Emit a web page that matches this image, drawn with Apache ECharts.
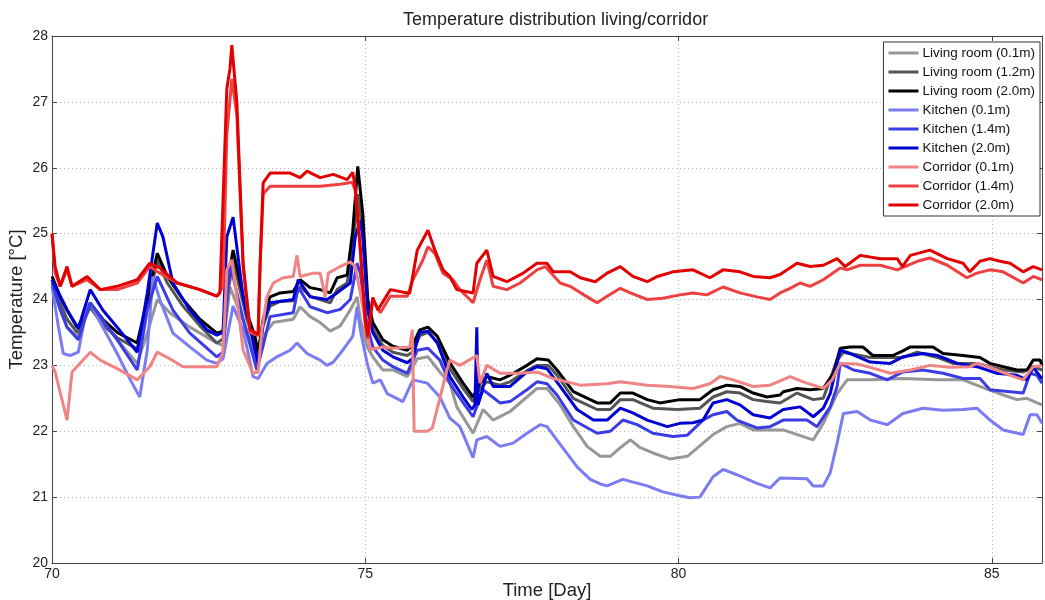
<!DOCTYPE html>
<html>
<head>
<meta charset="utf-8">
<script src="https://cdn.jsdelivr.net/npm/echarts@6/dist/echarts.min.js"></script>
<style>
html,body{margin:0;padding:0;background:#fff;}
#chart{width:1045px;height:600px;}
</style>
</head>
<body>
<div id="chart"></div>
<script>
// ---- data: [day, temperature °C] ----
const seriesNames = ['Living room (0.1m)','Living room (1.2m)','Living room (2.0m)','Kitchen (0.1m)','Kitchen (1.4m)','Kitchen (2.0m)','Corridor (0.1m)','Corridor (1.4m)','Corridor (2.0m)'];
const xTicks = [70, 75, 80, 85];
const yTicks = [20, 21, 22, 23, 24, 25, 26, 27, 28];

const livingRoom01 = [[70.00,24.2],[70.13,23.85],[70.24,23.58],[70.40,23.44],[70.61,23.89],[71.04,23.39],[71.36,23.03],[71.52,23.49],[71.68,24.0],[71.88,23.8],[72.20,23.58],[72.63,23.34],[72.73,23.3],[72.84,24.19],[73.11,23.54],[73.27,23.03],[73.37,23.44],[73.53,23.65],[73.85,23.7],[73.96,23.89],[74.12,23.74],[74.28,23.65],[74.44,23.52],[74.60,23.6],[74.76,23.84],[74.87,24.04],[74.92,23.7],[75.03,23.28],[75.12,23.13],[75.28,22.93],[75.44,22.93],[75.67,22.83],[75.83,23.1],[76.00,23.13],[76.19,22.9],[76.35,22.73],[76.46,22.37],[76.72,21.97],[76.88,22.33],[77.04,22.17],[77.31,22.3],[77.58,22.52],[77.74,22.65],[77.90,22.65],[78.11,22.4],[78.32,22.07],[78.54,21.77],[78.75,21.62],[78.91,21.62],[79.07,21.75],[79.23,21.87],[79.39,21.75],[79.59,21.67],[79.86,21.58],[80.14,21.62],[80.39,21.82],[80.55,21.95],[80.77,22.07],[80.98,22.12],[81.19,22.02],[81.46,22.02],[81.67,22.02],[82.05,21.9],[82.15,21.87],[82.31,22.12],[82.53,22.57],[82.69,22.78],[83.06,22.78],[83.58,22.8],[84.13,22.78],[84.54,22.78],[84.81,22.68],[85.18,22.55],[85.40,22.48],[85.56,22.5],[85.72,22.43],[85.80,22.4]];

const livingRoom12 = [[70.00,24.3],[70.13,23.95],[70.24,23.7],[70.40,23.5],[70.61,23.88],[70.81,23.62],[71.04,23.42],[71.36,23.25],[71.52,23.9],[71.68,24.6],[71.84,24.25],[72.09,23.9],[72.36,23.6],[72.63,23.34],[72.73,23.4],[72.79,24.0],[72.89,24.6],[73.11,23.7],[73.24,23.35],[73.29,23.15],[73.37,23.6],[73.48,23.9],[73.64,23.97],[73.85,23.98],[73.96,24.2],[74.12,24.05],[74.28,24.0],[74.44,23.95],[74.55,24.15],[74.71,24.25],[74.80,24.8],[74.88,25.6],[74.96,25.0],[75.04,23.85],[75.12,23.55],[75.28,23.3],[75.44,23.2],[75.67,23.15],[75.75,23.2],[75.87,23.45],[76.00,23.5],[76.15,23.35],[76.35,22.95],[76.56,22.65],[76.72,22.45],[76.83,22.65],[76.94,22.75],[77.15,22.7],[77.31,22.75],[77.58,22.92],[77.74,23.0],[77.92,23.0],[78.06,22.85],[78.32,22.5],[78.70,22.33],[78.91,22.33],[79.07,22.48],[79.27,22.48],[79.59,22.35],[79.98,22.33],[80.34,22.35],[80.55,22.52],[80.77,22.6],[80.98,22.58],[81.19,22.48],[81.41,22.45],[81.62,22.43],[81.89,22.58],[82.15,22.48],[82.31,22.5],[82.53,23.08],[82.63,23.2],[83.06,23.12],[83.58,23.12],[83.81,23.2],[84.13,23.12],[84.38,23.03],[84.76,23.03],[85.18,22.93],[85.50,22.9],[85.66,22.98],[85.80,22.93]];

const livingRoom20 = [[70.00,24.35],[70.13,24.05],[70.24,23.84],[70.40,23.58],[70.49,23.7],[70.61,23.95],[70.81,23.7],[71.04,23.5],[71.36,23.34],[71.52,24.0],[71.68,24.7],[71.84,24.35],[72.09,24.0],[72.36,23.7],[72.63,23.49],[72.73,23.52],[72.79,24.2],[72.89,24.75],[73.11,23.8],[73.24,23.44],[73.29,23.2],[73.37,23.7],[73.48,24.04],[73.64,24.1],[73.85,24.12],[73.96,24.3],[74.12,24.18],[74.28,24.15],[74.44,24.1],[74.55,24.33],[74.71,24.37],[74.80,25.05],[74.88,26.02],[74.96,25.3],[75.04,24.0],[75.12,23.65],[75.28,23.39],[75.44,23.29],[75.67,23.23],[75.75,23.3],[75.87,23.54],[76.00,23.58],[76.15,23.44],[76.35,23.04],[76.56,22.73],[76.72,22.52],[76.83,22.73],[76.94,22.83],[77.15,22.78],[77.31,22.85],[77.58,23.0],[77.74,23.1],[77.92,23.08],[78.06,22.93],[78.32,22.6],[78.70,22.43],[78.91,22.43],[79.07,22.58],[79.27,22.58],[79.50,22.48],[79.70,22.43],[80.02,22.48],[80.34,22.48],[80.55,22.63],[80.77,22.7],[80.98,22.68],[81.19,22.58],[81.41,22.52],[81.62,22.55],[81.67,22.6],[81.89,22.65],[82.10,22.63],[82.31,22.65],[82.47,22.88],[82.58,23.26],[82.74,23.28],[82.94,23.28],[83.10,23.15],[83.42,23.15],[83.58,23.22],[83.70,23.28],[84.06,23.28],[84.22,23.18],[84.54,23.15],[84.81,23.12],[84.97,23.03],[85.18,22.98],[85.40,22.93],[85.56,22.93],[85.66,23.08],[85.77,23.08],[85.80,23.0]];

const kitchen01 = [[70.00,24.2],[70.10,23.6],[70.18,23.18],[70.29,23.15],[70.42,23.2],[70.56,23.9],[70.61,23.95],[70.77,23.65],[71.04,23.18],[71.25,22.78],[71.40,22.52],[71.52,23.23],[71.61,24.35],[71.72,24.0],[71.93,23.49],[72.20,23.28],[72.47,23.08],[72.63,23.03],[72.73,23.1],[72.89,23.9],[73.05,23.54],[73.21,22.83],[73.29,22.8],[73.43,23.03],[73.59,23.13],[73.80,23.23],[73.91,23.34],[74.07,23.18],[74.28,23.08],[74.39,23.0],[74.49,23.05],[74.64,23.23],[74.80,23.44],[74.87,23.89],[74.92,23.54],[75.03,23.03],[75.12,22.73],[75.24,22.78],[75.35,22.57],[75.60,22.45],[75.76,22.78],[75.99,22.73],[76.19,22.52],[76.35,22.2],[76.51,22.07],[76.72,21.6],[76.78,21.87],[76.94,21.92],[77.15,21.77],[77.36,21.82],[77.58,21.97],[77.79,22.1],[77.90,22.07],[78.11,21.8],[78.38,21.46],[78.59,21.27],[78.75,21.2],[78.86,21.17],[79.11,21.27],[79.50,21.17],[79.75,21.08],[80.02,21.02],[80.18,20.99],[80.34,21.0],[80.55,21.31],[80.71,21.42],[80.93,21.34],[81.25,21.21],[81.46,21.14],[81.62,21.29],[82.05,21.28],[82.15,21.17],[82.31,21.17],[82.42,21.37],[82.53,21.82],[82.63,22.27],[82.85,22.3],[83.06,22.17],[83.33,22.1],[83.58,22.27],[83.90,22.35],[84.22,22.32],[84.54,22.33],[84.76,22.35],[84.97,22.17],[85.18,22.02],[85.50,21.95],[85.61,22.25],[85.72,22.25],[85.80,22.12]];

const kitchen14 = [[70.00,24.25],[70.13,23.85],[70.24,23.58],[70.42,23.39],[70.61,23.95],[71.04,23.39],[71.36,22.93],[71.52,23.84],[71.68,24.35],[71.93,23.84],[72.20,23.49],[72.63,23.13],[72.73,23.2],[72.84,24.55],[73.05,23.7],[73.27,22.93],[73.37,23.3],[73.48,23.74],[73.85,23.8],[73.93,24.19],[74.12,23.89],[74.39,23.8],[74.60,23.85],[74.76,24.0],[74.87,24.55],[74.92,24.4],[75.03,23.6],[75.12,23.28],[75.28,23.08],[75.44,22.98],[75.67,22.88],[75.83,23.23],[76.00,23.26],[76.19,23.08],[76.35,22.73],[76.46,22.57],[76.72,22.22],[76.88,22.63],[77.15,22.43],[77.31,22.45],[77.58,22.63],[77.74,22.75],[77.90,22.72],[78.06,22.55],[78.32,22.17],[78.70,21.97],[78.91,22.0],[79.11,22.17],[79.34,22.1],[79.59,21.97],[79.91,21.92],[80.14,21.94],[80.39,22.17],[80.55,22.25],[80.77,22.3],[80.93,22.17],[81.25,22.05],[81.46,22.07],[81.67,22.17],[82.05,22.17],[82.21,22.07],[82.42,22.37],[82.53,22.68],[82.58,23.03],[82.79,22.93],[83.06,22.88],[83.33,22.78],[83.58,22.9],[83.90,22.93],[84.22,22.88],[84.54,22.8],[84.81,22.8],[84.97,22.63],[85.29,22.6],[85.50,22.58],[85.61,22.88],[85.72,22.85],[85.80,22.73]];

const kitchen20 = [[70.00,24.3],[70.13,24.05],[70.24,23.84],[70.42,23.56],[70.61,24.15],[70.81,23.84],[71.04,23.58],[71.36,23.2],[71.52,24.1],[71.68,25.16],[71.77,24.95],[71.93,24.25],[72.20,23.84],[72.47,23.54],[72.63,23.46],[72.73,23.5],[72.79,24.95],[72.89,25.25],[73.05,24.04],[73.24,23.23],[73.29,23.03],[73.37,23.65],[73.48,23.95],[73.85,24.0],[73.93,24.3],[74.12,24.04],[74.39,24.0],[74.55,24.1],[74.76,24.25],[74.84,24.95],[74.92,25.2],[74.96,24.95],[75.04,23.84],[75.12,23.5],[75.28,23.23],[75.44,23.13],[75.67,23.04],[75.75,23.1],[75.87,23.5],[76.00,23.52],[76.15,23.34],[76.35,22.83],[76.56,22.52],[76.70,22.33],[76.75,22.4],[76.78,23.58],[76.80,22.4],[76.94,22.88],[77.04,22.68],[77.31,22.68],[77.58,22.9],[77.74,22.98],[77.90,22.95],[78.11,22.68],[78.38,22.33],[78.64,22.17],[78.86,22.17],[79.07,22.35],[79.27,22.28],[79.50,22.17],[79.82,22.07],[80.02,22.12],[80.23,22.13],[80.39,22.17],[80.55,22.43],[80.77,22.48],[80.98,22.4],[81.19,22.25],[81.46,22.2],[81.67,22.33],[81.94,22.37],[82.15,22.22],[82.31,22.35],[82.42,22.57],[82.58,23.23],[82.74,23.18],[83.06,23.05],[83.38,23.03],[83.58,23.13],[83.90,23.18],[84.13,23.15],[84.45,23.03],[84.76,22.98],[85.08,22.88],[85.40,22.85],[85.56,22.78],[85.66,22.97],[85.80,22.8]];

const corridor01 = [[70.00,23.0],[70.05,22.9],[70.24,22.17],[70.32,22.9],[70.61,23.2],[70.77,23.08],[71.04,22.95],[71.36,22.78],[71.56,22.98],[71.68,23.2],[71.88,23.1],[72.09,22.98],[72.36,22.98],[72.63,22.98],[72.73,23.2],[72.79,24.45],[72.87,24.6],[72.95,24.04],[73.05,23.23],[73.21,22.88],[73.29,22.9],[73.35,23.54],[73.43,24.04],[73.53,24.25],[73.69,24.33],[73.85,24.35],[73.91,24.67],[73.96,24.35],[74.17,24.4],[74.28,24.4],[74.36,24.04],[74.41,24.4],[74.60,24.5],[74.76,24.57],[74.84,24.5],[74.92,24.1],[75.03,23.5],[75.08,23.24],[75.28,23.28],[75.44,23.26],[75.71,23.28],[75.75,23.54],[75.78,22.0],[75.99,22.0],[76.07,22.05],[76.19,22.5],[76.30,22.92],[76.35,23.08],[76.51,23.0],[76.78,23.15],[76.83,22.73],[76.94,23.0],[77.15,22.88],[77.47,22.88],[77.74,22.9],[78.00,22.8],[78.43,22.7],[78.86,22.72],[79.07,22.75],[79.50,22.7],[79.86,22.68],[80.23,22.65],[80.50,22.72],[80.66,22.83],[80.87,22.78],[81.19,22.68],[81.46,22.7],[81.78,22.83],[81.99,22.75],[82.31,22.65],[82.45,22.78],[82.58,23.03],[82.85,23.02],[83.06,22.97],[83.38,22.88],[83.70,22.93],[84.01,23.0],[84.33,22.97],[84.65,22.98],[84.76,23.03],[84.97,22.97],[85.29,22.85],[85.50,22.78],[85.66,22.98],[85.80,23.0]];

const corridor14 = [[70.00,25.0],[70.05,24.4],[70.13,24.2],[70.24,24.45],[70.32,24.2],[70.56,24.3],[70.77,24.15],[71.04,24.15],[71.36,24.25],[71.56,24.5],[71.72,24.4],[72.00,24.25],[72.36,24.15],[72.63,24.05],[72.73,24.2],[72.79,26.5],[72.87,27.35],[72.95,26.8],[73.05,24.5],[73.16,23.5],[73.29,23.45],[73.32,24.5],[73.37,25.6],[73.48,25.72],[73.85,25.72],[74.28,25.72],[74.60,25.75],[74.79,25.78],[74.84,25.65],[74.92,24.8],[75.00,23.6],[75.04,23.4],[75.12,24.0],[75.24,23.8],[75.40,24.05],[75.67,24.05],[75.76,24.3],[75.92,24.6],[76.00,24.8],[76.11,24.7],[76.24,24.4],[76.40,24.3],[76.51,24.15],[76.72,23.95],[76.83,24.3],[76.94,24.6],[77.04,24.2],[77.26,24.15],[77.47,24.25],[77.74,24.45],[77.87,24.5],[78.11,24.25],[78.27,24.2],[78.54,24.04],[78.70,23.95],[78.86,24.05],[79.07,24.17],[79.23,24.1],[79.50,24.0],[79.75,24.02],[80.02,24.07],[80.23,24.1],[80.45,24.07],[80.71,24.19],[80.98,24.1],[81.25,24.04],[81.46,24.0],[81.62,24.1],[81.78,24.17],[81.94,24.25],[82.10,24.2],[82.31,24.3],[82.58,24.48],[82.69,24.45],[82.90,24.52],[83.22,24.52],[83.49,24.45],[83.81,24.58],[84.01,24.63],[84.29,24.52],[84.60,24.33],[84.76,24.4],[84.97,24.45],[85.18,24.42],[85.50,24.25],[85.66,24.35],[85.80,24.3]];

const corridor20 = [[70.00,25.0],[70.05,24.5],[70.13,24.2],[70.24,24.5],[70.32,24.2],[70.56,24.35],[70.77,24.15],[71.04,24.2],[71.36,24.3],[71.56,24.55],[71.72,24.48],[72.00,24.25],[72.36,24.15],[72.63,24.05],[72.68,24.1],[72.79,27.2],[72.84,27.5],[72.87,27.86],[72.95,27.0],[73.05,24.55],[73.16,23.55],[73.29,23.47],[73.32,24.5],[73.37,25.77],[73.48,25.92],[73.80,25.92],[73.96,25.85],[74.07,25.95],[74.28,25.85],[74.49,25.9],[74.71,25.82],[74.80,25.93],[74.84,25.7],[74.92,24.75],[75.00,23.7],[75.04,23.44],[75.12,24.03],[75.20,23.84],[75.40,24.15],[75.67,24.1],[75.71,24.1],[75.83,24.75],[76.00,25.05],[76.11,24.75],[76.24,24.45],[76.35,24.35],[76.46,24.15],[76.72,24.1],[76.78,24.55],[76.94,24.75],[77.04,24.35],[77.26,24.27],[77.52,24.4],[77.74,24.55],[77.90,24.55],[78.00,24.42],[78.27,24.42],[78.43,24.33],[78.67,24.27],[78.86,24.4],[79.07,24.5],[79.27,24.35],[79.50,24.27],[79.66,24.35],[79.91,24.42],[80.23,24.45],[80.50,24.33],[80.71,24.45],[80.98,24.42],[81.19,24.35],[81.46,24.33],[81.62,24.38],[81.89,24.55],[82.10,24.5],[82.31,24.52],[82.53,24.62],[82.66,24.5],[82.90,24.67],[83.22,24.62],[83.49,24.62],[83.57,24.5],[83.70,24.67],[84.01,24.75],[84.29,24.62],[84.54,24.55],[84.65,24.42],[84.81,24.58],[84.97,24.62],[85.13,24.58],[85.29,24.55],[85.50,24.42],[85.66,24.5],[85.80,24.45]];

const seriesData = [livingRoom01, livingRoom12, livingRoom20, kitchen01, kitchen14, kitchen20, corridor01, corridor14, corridor20];
const seriesColors = ['#979797','#555555','#000000','#7b7bf2','#3c3ce6','#0000d2','#f08484','#ee4040','#e20000'];

const chart = echarts.init(document.getElementById('chart'), null, {renderer: 'canvas'});
const FONT = 'Liberation Sans, Arial, sans-serif';
const xMin = xTicks[0], xMax = 85.8, yMin = yTicks[0], yMax = yTicks[yTicks.length - 1];

const gridLine = {show: true, lineStyle: {color: '#b8b8b8', type: [1, 3], width: 1}};
const axisLineStyle = {show: true, lineStyle: {color: '#444', width: 1}};
const tickStyle = {show: true, inside: true, length: 5, lineStyle: {color: '#444'}};

chart.setOption({
  animation: false,
  backgroundColor: '#fff',
  title: {
    text: 'Temperature distribution living/corridor',
    left: 398, top: 6,
    textStyle: {fontFamily: FONT, fontSize: 18, fontWeight: 'normal', color: '#222'}
  },
  grid: {left: 52, top: 36, right: 3, bottom: 37, containLabel: false, outerBoundsMode: 'none'},
  legend: {
    orient: 'vertical',
    right: 5, top: 42,
    data: seriesNames,
    icon: 'rect',
    backgroundColor: '#fff',
    borderColor: '#333', borderWidth: 1, borderRadius: 0,
    padding: [4, 5, 4, 5],
    itemWidth: 30, itemHeight: 3, itemGap: 5,
    textStyle: {fontFamily: FONT, fontSize: 13.5, lineHeight: 14, color: '#111', padding: [0, 0, 0, -1]}
  },
  xAxis: [{
    type: 'value', min: xMin, max: xMax, interval: 5,
    name: 'Time [Day]', nameLocation: 'middle', nameGap: 18, nameMoveOverlap: false,
    nameTextStyle: {fontFamily: FONT, fontSize: 18.5, color: '#222'},
    axisLine: axisLineStyle,
    axisTick: tickStyle,
    axisLabel: {fontFamily: FONT, fontSize: 14, color: '#222', margin: 4,
      formatter: v => (xTicks.indexOf(v) >= 0 ? String(v) : '')},
    splitLine: gridLine
  }, {
    type: 'value', min: xMin, max: xMax, interval: 5, position: 'top',
    axisLine: axisLineStyle, axisTick: tickStyle,
    axisLabel: {show: false}, splitLine: {show: false}
  }],
  yAxis: [{
    type: 'value', min: yMin, max: yMax, interval: 1,
    name: 'Temperature [°C]', nameLocation: 'middle', nameGap: 26, nameMoveOverlap: false,
    nameTextStyle: {fontFamily: FONT, fontSize: 18.5, color: '#222'},
    axisLine: axisLineStyle, axisTick: tickStyle,
    axisLabel: {fontFamily: FONT, fontSize: 14, color: '#222', margin: 4},
    splitLine: gridLine
  }, {
    type: 'value', min: yMin, max: yMax, interval: 1, position: 'right',
    axisLine: axisLineStyle, axisTick: tickStyle,
    axisLabel: {show: false}, splitLine: {show: false}
  }],
  series: seriesNames.map((name, i) => ({
    name: name,
    type: 'line',
    xAxisIndex: 0, yAxisIndex: 0,
    data: seriesData[i],
    symbol: 'none',
    color: seriesColors[i],
    lineStyle: {color: seriesColors[i], width: 3},
    clip: true
  }))
});
</script>
</body>
</html>
